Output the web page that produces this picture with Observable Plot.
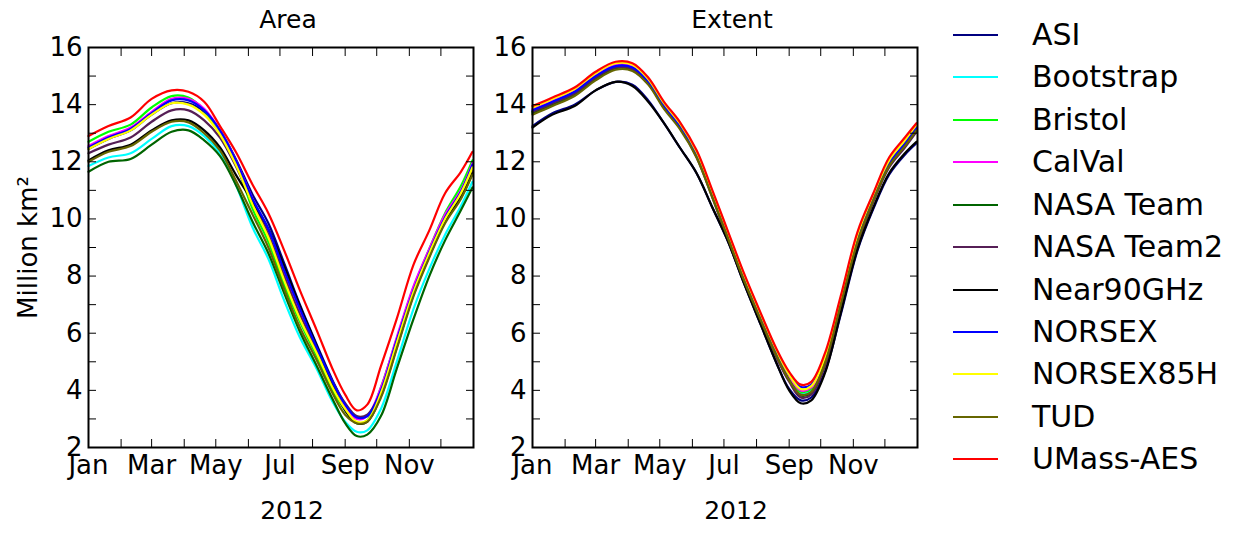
<!DOCTYPE html>
<html>
<head>
<meta charset="utf-8">
<script src="https://cdn.jsdelivr.net/npm/d3@7"></script>
<script src="https://cdn.jsdelivr.net/npm/@observablehq/plot@0.6"></script>
<style>
  body { margin: 0; background: #fff; }
  #chart { position: relative; width: 1234px; height: 544px; font-family: "DejaVu Sans", sans-serif; color: #000; overflow: hidden; }
  .panel { position: absolute; top: 0; }
  .item { position: absolute; left: 953px; height: 0; }
  .swatch { position: absolute; left: 0; top: -1px; width: 45px; height: 2px; }
  .name { position: absolute; left: 79px; top: 0; transform: translateY(-50%); font-size: 30px; line-height: 1; white-space: nowrap; }
</style>
</head>
<body>
<div id="chart"></div>
<script>
// Sample days (day of year, 2012) at which each product is tabulated
const sampleDays = [0, 19, 40, 60, 79, 95, 110, 125, 140, 156, 171, 186, 201, 217, 232, 244, 255, 265, 278, 293, 309, 324, 339, 354, 365];

// Product names and their line colours
const seriesNames = ["ASI", "Bootstrap", "Bristol", "CalVal", "NASA Team", "NASA Team2", "Near90GHz", "NORSEX", "NORSEX85H", "TUD", "UMass-AES"];
const seriesColors = ["#000080", "#00ffff", "#00ff00", "#ff00ff", "#006400", "#561f56", "#000000", "#0000ff", "#ffff00", "#666600", "#ff0000"];

// Sea ice area, million km²
const areaASI       = [12.45, 12.8, 13.1, 13.65, 14.05, 14.05, 13.75, 13.1, 12.1, 10.85, 9.85, 8.45, 7.0, 5.6, 4.35, 3.5, 3.05, 3.1, 4.0, 5.7, 7.5, 8.85, 10.1, 10.95, 11.9];
const areaBootstrap = [11.85, 12.15, 12.3, 12.8, 13.25, 13.25, 12.9, 12.3, 11.2, 9.7, 8.6, 7.15, 5.85, 4.75, 3.6, 2.9, 2.55, 2.6, 3.35, 5.0, 6.85, 8.25, 9.45, 10.45, 11.3];
const areaBristol   = [12.7, 13.05, 13.3, 13.9, 14.3, 14.25, 13.8, 13.0, 11.95, 10.35, 9.2, 7.7, 6.4, 5.2, 4.0, 3.3, 2.85, 2.95, 4.1, 5.8, 7.6, 8.95, 10.2, 11.15, 12.05];
const areaCalVal    = [12.55, 12.9, 13.2, 13.75, 14.2, 14.2, 13.85, 13.1, 12.05, 10.7, 9.55, 8.1, 6.7, 5.45, 4.25, 3.45, 3.0, 3.1, 4.1, 5.85, 7.65, 8.95, 10.15, 11.0, 11.95];
const areaNASATeam  = [11.65, 12.0, 12.1, 12.6, 13.05, 13.1, 12.75, 12.2, 11.2, 9.9, 8.8, 7.4, 6.05, 4.85, 3.7, 2.85, 2.4, 2.45, 3.1, 4.75, 6.5, 8.0, 9.25, 10.3, 11.1];
const areaNASATeam2 = [12.3, 12.6, 12.85, 13.4, 13.8, 13.8, 13.45, 12.85, 11.85, 10.55, 9.45, 8.0, 6.65, 5.4, 4.3, 3.55, 3.1, 3.15, 3.95, 5.65, 7.4, 8.75, 9.95, 10.8, 11.7];
const areaNear90GHz = [12.05, 12.4, 12.6, 13.1, 13.45, 13.45, 13.1, 12.5, 11.55, 10.6, 9.65, 8.35, 6.95, 5.55, 4.2, 3.3, 2.85, 2.9, 3.8, 5.5, 7.35, 8.7, 9.9, 10.75, 11.6];
const areaNORSEX    = [12.5, 12.85, 13.15, 13.7, 14.15, 14.15, 13.8, 13.1, 12.05, 10.7, 9.65, 8.2, 6.85, 5.5, 4.3, 3.5, 3.05, 3.1, 4.0, 5.75, 7.5, 8.85, 10.05, 10.95, 11.9];
const areaNORSEX85H = [12.45, 12.8, 13.1, 13.65, 14.05, 14.0, 13.65, 12.95, 11.9, 10.5, 9.35, 7.85, 6.5, 5.3, 4.1, 3.35, 2.9, 2.95, 3.9, 5.65, 7.45, 8.8, 10.0, 10.9, 11.8];
const areaTUD       = [12.0, 12.35, 12.55, 13.05, 13.4, 13.38, 13.0, 12.4, 11.35, 10.15, 9.0, 7.55, 6.2, 5.05, 3.9, 3.15, 2.85, 2.9, 3.75, 5.45, 7.3, 8.65, 9.85, 10.7, 11.55];
const areaUMassAES  = [12.9, 13.25, 13.55, 14.2, 14.5, 14.45, 14.1, 13.25, 12.35, 11.2, 10.2, 8.9, 7.5, 6.1, 4.75, 3.85, 3.3, 3.5, 4.85, 6.5, 8.4, 9.6, 10.9, 11.65, 12.35];

// Sea ice extent, million km²
const extentASI       = [13.25, 13.7, 14.0, 14.5, 14.8, 14.7, 14.15, 13.35, 12.5, 11.6, 10.4, 9.2, 7.75, 6.3, 4.95, 4.05, 3.65, 3.75, 4.65, 6.65, 8.9, 10.35, 11.55, 12.25, 12.65];
const extentBootstrap = [13.75, 14.05, 14.4, 14.95, 15.3, 15.25, 14.8, 14.0, 13.3, 12.3, 10.85, 9.35, 7.9, 6.5, 5.25, 4.4, 3.9, 4.0, 5.0, 7.05, 9.3, 10.7, 11.9, 12.6, 13.15];
const extentBristol   = [13.75, 14.05, 14.4, 14.95, 15.3, 15.25, 14.8, 13.95, 13.25, 12.25, 10.85, 9.4, 7.95, 6.55, 5.3, 4.45, 3.95, 4.05, 5.05, 7.1, 9.3, 10.75, 11.95, 12.65, 13.2];
const extentCalVal    = [13.85, 14.15, 14.5, 15.05, 15.4, 15.35, 14.85, 14.0, 13.3, 12.3, 10.9, 9.45, 8.0, 6.6, 5.35, 4.5, 4.0, 4.1, 5.1, 7.15, 9.4, 10.8, 12.0, 12.7, 13.25];
const extentNASATeam  = [13.7, 14.0, 14.35, 14.9, 15.28, 15.22, 14.75, 13.9, 13.2, 12.2, 10.8, 9.3, 7.85, 6.45, 5.2, 4.35, 3.82, 3.92, 4.95, 7.0, 9.2, 10.65, 11.85, 12.55, 13.1];
const extentNASATeam2 = [13.75, 14.05, 14.4, 14.95, 15.3, 15.25, 14.75, 13.9, 13.2, 12.15, 10.75, 9.25, 7.8, 6.4, 5.15, 4.3, 3.75, 3.85, 4.85, 6.9, 9.1, 10.6, 11.8, 12.5, 13.05];
const extentNear90GHz = [13.2, 13.65, 13.95, 14.5, 14.8, 14.65, 14.1, 13.35, 12.5, 11.6, 10.4, 9.2, 7.75, 6.3, 4.95, 4.0, 3.55, 3.65, 4.6, 6.7, 8.95, 10.4, 11.6, 12.3, 12.7];
const extentNORSEX    = [13.8, 14.1, 14.45, 15.0, 15.35, 15.3, 14.8, 13.95, 13.25, 12.25, 10.85, 9.45, 8.0, 6.6, 5.35, 4.55, 4.12, 4.2, 5.15, 7.15, 9.35, 10.75, 11.95, 12.65, 13.2];
const extentNORSEX85H = [13.9, 14.2, 14.55, 15.1, 15.45, 15.4, 14.9, 14.05, 13.35, 12.35, 10.95, 9.5, 8.05, 6.65, 5.4, 4.55, 4.05, 4.15, 5.15, 7.2, 9.45, 10.85, 12.05, 12.75, 13.3];
const extentTUD       = [13.65, 13.95, 14.3, 14.85, 15.22, 15.18, 14.7, 13.85, 13.15, 12.15, 10.75, 9.3, 7.85, 6.45, 5.2, 4.35, 3.85, 3.95, 4.95, 7.0, 9.2, 10.65, 11.85, 12.55, 13.1];
const extentUMassAES  = [13.95, 14.25, 14.6, 15.15, 15.5, 15.45, 14.95, 14.1, 13.4, 12.4, 11.0, 9.55, 8.1, 6.7, 5.45, 4.65, 4.2, 4.3, 5.3, 7.3, 9.55, 10.9, 12.15, 12.85, 13.35];

// Axis ticks and labels
const yTickValues = [2, 3, 4, 5, 6, 7, 8, 9, 10, 11, 12, 13, 14, 15, 16];
const yLabelValues = [2, 4, 6, 8, 10, 12, 14, 16];
const monthTickValues = d3.utcMonth.range(new Date(Date.UTC(2012, 0, 1)), new Date(Date.UTC(2013, 0, 2)));
const monthLabelValues = ["2012-01-01", "2012-03-01", "2012-05-01", "2012-07-01", "2012-09-01", "2012-11-01"].map(s => new Date(s + "T00:00:00Z"));
const yearLabel = "2012";

const areaSeries = [areaASI, areaBootstrap, areaBristol, areaCalVal, areaNASATeam, areaNASATeam2, areaNear90GHz, areaNORSEX, areaNORSEX85H, areaTUD, areaUMassAES];
const extentSeries = [extentASI, extentBootstrap, extentBristol, extentCalVal, extentNASATeam, extentNASATeam2, extentNear90GHz, extentNORSEX, extentNORSEX85H, extentTUD, extentUMassAES];

const dayToDate = d => new Date(Date.UTC(2012, 0, 1 + d));

// Long-format table: one row per product and sample day
function toTable(seriesValues) {
  const rows = [];
  seriesValues.forEach((values, i) => {
    values.forEach((v, j) => rows.push({series: seriesNames[i], date: dayToDate(sampleDays[j]), value: v}));
  });
  return rows;
}

function panel({title, table, width, marginLeft, marginRight, yLabel}) {
  return Plot.plot({
    width, height: 544,
    marginLeft, marginRight, marginTop: 47, marginBottom: 97,
    style: {fontFamily: "DejaVu Sans", fontSize: "26px", background: "transparent", color: "black", overflow: "visible"},
    x: {type: "utc", domain: [new Date(Date.UTC(2012, 0, 1)), new Date(Date.UTC(2013, 0, 1))], label: null},
    y: {domain: [2, 16], label: null},
    color: {domain: seriesNames, range: seriesColors},
    marks: [
      Plot.line(table, {x: "date", y: "value", z: "series", stroke: "series", strokeWidth: 2.2, curve: "catmull-rom"}),
      Plot.frame({stroke: "black", strokeWidth: 2}),
      // inward ticks on all four sides
      Plot.axisX(monthTickValues, {anchor: "bottom", tickSize: 8, dy: -8, fill: "none", label: null}),
      Plot.axisX(monthTickValues, {anchor: "top", tickSize: 8, dy: 8, fill: "none", label: null}),
      Plot.axisY(yTickValues, {anchor: "left", tickSize: 8, dx: 8, fill: "none", label: null}),
      Plot.axisY(yTickValues, {anchor: "right", tickSize: 8, dx: -8, fill: "none", label: null}),
      // tick labels
      Plot.axisX(monthLabelValues, {anchor: "bottom", tickSize: 0, tickPadding: 8, tickFormat: d3.utcFormat("%b"), label: null}),
      Plot.axisY(yLabelValues, {anchor: "left", tickSize: 0, tickPadding: 6, label: yLabel, labelAnchor: "center", labelOffset: 70, labelArrow: "none"}),
      Plot.text([title], {text: d => d, frameAnchor: "top", lineAnchor: "middle", dx: 7, dy: -28, fontSize: 25}),
      Plot.text([yearLabel], {text: d => d, frameAnchor: "bottom", lineAnchor: "middle", dx: 11, dy: 63, fontSize: 25})
    ]
  });
}

const chart = document.getElementById("chart");

const areaPlot = panel({title: "Area", table: toTable(areaSeries), width: 480, marginLeft: 88, marginRight: 7, yLabel: "Million km²"});
areaPlot.classList.add("panel");
areaPlot.style.left = "0px";
chart.appendChild(areaPlot);

const extentPlot = panel({title: "Extent", table: toTable(extentSeries), width: 460, marginLeft: 52, marginRight: 23, yLabel: null});
extentPlot.classList.add("panel");
extentPlot.style.left = "480px";
chart.appendChild(extentPlot);

// Legend: one line swatch and name per product
seriesNames.forEach((name, i) => {
  const item = document.createElement("div");
  item.className = "item";
  item.style.top = (35 + i * 42.43) + "px";
  const sw = document.createElement("div");
  sw.className = "swatch";
  sw.style.background = seriesColors[i];
  const label = document.createElement("div");
  label.className = "name";
  label.textContent = name;
  item.appendChild(sw);
  item.appendChild(label);
  chart.appendChild(item);
});
</script>
</body>
</html>
